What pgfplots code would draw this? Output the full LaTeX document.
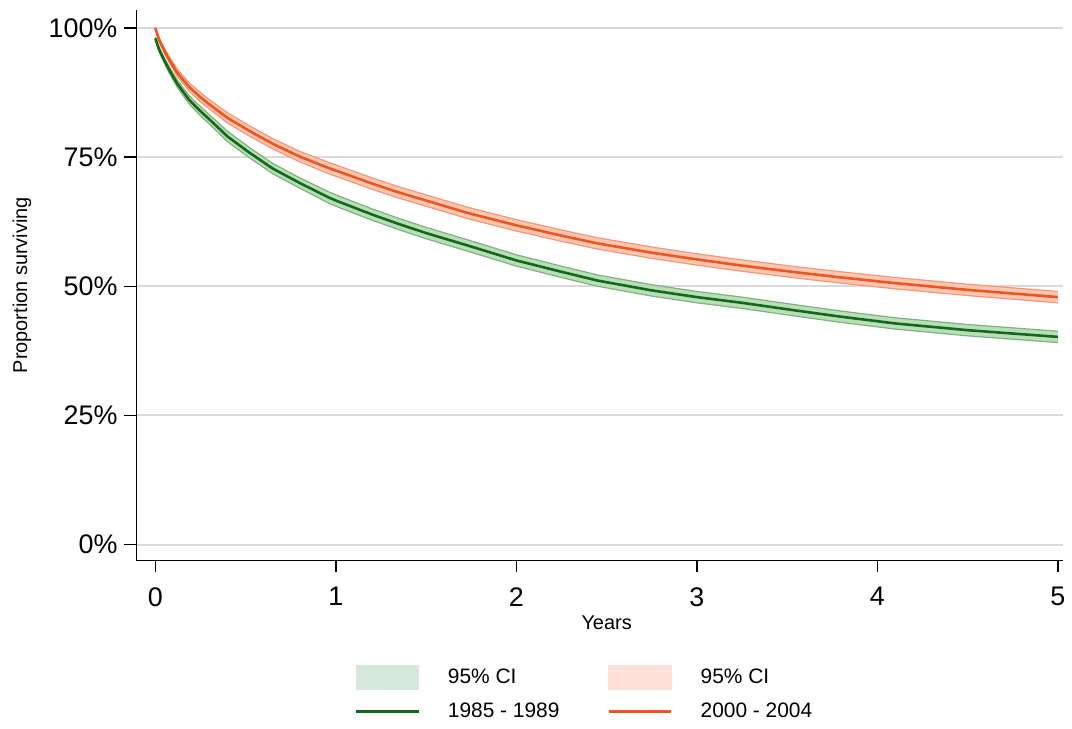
\documentclass[border=0pt]{standalone}
\usepackage{fontspec}
\setmainfont{Liberation Sans}
\usepackage{pgfplots}
\usepackage{pgfplotstable}
\pgfplotsset{compat=1.18}
\usepgfplotslibrary{fillbetween}
\definecolor{gline}{RGB}{20,105,25}
\definecolor{oline}{RGB}{240,85,30}
\definecolor{gband}{RGB}{185,222,185}
\definecolor{gedge}{RGB}{125,180,125}
\definecolor{oband}{RGB}{252,200,180}
\definecolor{oedge}{RGB}{246,150,118}
\definecolor{gleg}{RGB}{213,232,217}
\definecolor{oleg}{RGB}{253,224,216}
\definecolor{gridc}{RGB}{218,218,218}

\pgfplotstableread{
x y lo hi
0 98.0 97.7 98.3
0.02 95.9 95.5 96.3
0.05 93.7 93.2 94.2
0.077 91.9 91.3 92.5
0.12 89.3 88.6 90.0
0.187 86.1 85.3 86.9
0.25 83.9 83.0 84.8
0.3 82.3 81.4 83.2
0.4 79.0 78.0 80.0
0.52 75.9 74.9 76.9
0.65 72.8 71.8 73.8
0.8 70.0 69.0 71.0
0.96 67.2 66.1 68.3
1.0 66.6 65.5 67.7
1.2 63.9 62.8 65.0
1.345 62.1 61.0 63.2
1.5 60.3 59.2 61.4
1.73 57.9 56.8 59.0
2.0 55.0 53.9 56.1
2.25 52.8 51.7 53.9
2.45 51.1 50.0 52.2
2.75 49.2 48.1 50.3
3.0 47.9 46.8 49.0
3.25 46.8 45.7 47.9
3.55 45.3 44.2 46.4
3.8 44.1 43.0 45.2
4.1 42.8 41.7 43.9
4.5 41.5 40.4 42.6
5.0 40.2 39.1 41.3
}\green

\pgfplotstableread{
x y lo hi
0 100.0 99.7 100.0
0.02 97.8 97.4 98.2
0.05 95.6 95.1 96.1
0.077 93.9 93.3 94.5
0.12 91.4 90.7 92.1
0.187 88.6 87.8 89.4
0.25 86.6 85.7 87.5
0.3 85.2 84.3 86.1
0.4 82.6 81.6 83.6
0.52 80.1 79.1 81.1
0.65 77.6 76.6 78.6
0.8 75.1 74.1 76.1
0.96 72.9 71.8 74.0
1.0 72.4 71.3 73.5
1.2 69.9 68.8 71.0
1.345 68.2 67.1 69.3
1.5 66.6 65.5 67.7
1.73 64.2 63.1 65.3
2.0 61.8 60.7 62.9
2.25 59.8 58.7 60.9
2.45 58.3 57.2 59.4
2.75 56.5 55.4 57.6
3.0 55.2 54.1 56.3
3.25 54.0 52.9 55.1
3.55 52.7 51.6 53.8
3.8 51.7 50.6 52.8
4.1 50.6 49.5 51.7
4.5 49.3 48.2 50.4
5.0 47.9 46.8 49.0
}\orange

\begin{document}
\begin{tikzpicture}
\begin{axis}[
  scale only axis,
  width=465.5pt, height=276.5pt,
  xmin=-0.105, xmax=5.03,
  ymin=-3.1, ymax=103.5,
  axis x line*=bottom, axis y line*=left,
  axis line style={line width=0.7pt},
  xtick={0,1,2,3,4,5},
  ytick={0,25,50,75,100},
  yticklabels={0\%,25\%,50\%,75\%,100\%},
  tick style={black, line width=0.7pt},
  tick align=outside,
  major tick length=6pt,
  ymajorgrids,
  grid style={gridc, line width=1pt},
  tick label style={font=\fontsize{13.5}{15}\selectfont},
  xticklabel style={yshift=-4pt},
  /pgf/number format/assume math mode=true,
  xlabel={Years},
  ylabel={Proportion surviving},
  label style={font=\fontsize{10.5}{12}\selectfont},
  every axis x label/.style={at={(axis cs:2.5,-3.1)}, anchor=north, yshift=-24pt},
  every axis y label/.style={at={(axis description cs:-0.1235,0.5)}, rotate=90, anchor=center},
  legend columns=2,
  legend style={at={(0.4844,0)}, anchor=north, yshift=-50pt, draw=none,
    font=\fontsize{10.5}{12}\selectfont,
    /tikz/every odd column/.append style={column sep=12pt},
    /tikz/every even column/.append style={column sep=22pt},
    row sep=4.5pt},
  legend cell align=left,
]
\addlegendimage{area legend, legend image code/.code={\fill[gleg] (0pt,-6.2pt) rectangle (31.5pt,6.2pt);}}
\addlegendentry{95\% CI}
\addlegendimage{area legend, legend image code/.code={\fill[oleg] (0pt,-6.2pt) rectangle (31.5pt,6.2pt);}}
\addlegendentry{95\% CI}
\addlegendimage{legend image code/.code={\draw[gline, line width=1.4pt] (0pt,0pt) -- (31.5pt,0pt);}}
\addlegendentry{1985 - 1989}
\addlegendimage{legend image code/.code={\draw[oline, line width=1.4pt] (0pt,0pt) -- (31.5pt,0pt);}}
\addlegendentry{2000 - 2004}

\addplot[gedge, line width=0.6pt, name path=glo, forget plot] table[x=x, y=lo] {\green};
\addplot[gedge, line width=0.6pt, name path=ghi, forget plot] table[x=x, y=hi] {\green};
\addplot[gband, forget plot] fill between[of=glo and ghi];
\addplot[oedge, line width=0.6pt, name path=olo, forget plot] table[x=x, y=lo] {\orange};
\addplot[oedge, line width=0.6pt, name path=ohi, forget plot] table[x=x, y=hi] {\orange};
\addplot[oband, forget plot] fill between[of=olo and ohi];
\addplot[gline, line width=1.3pt, forget plot] table[x=x, y=y] {\green};
\addplot[oline, line width=1.3pt, forget plot] table[x=x, y=y] {\orange};
\end{axis}
\path[use as bounding box] ([shift={(-68.5pt,-79pt)}]current axis.south west) rectangle ++(536pt,360.5pt);
\end{tikzpicture}
\end{document}
